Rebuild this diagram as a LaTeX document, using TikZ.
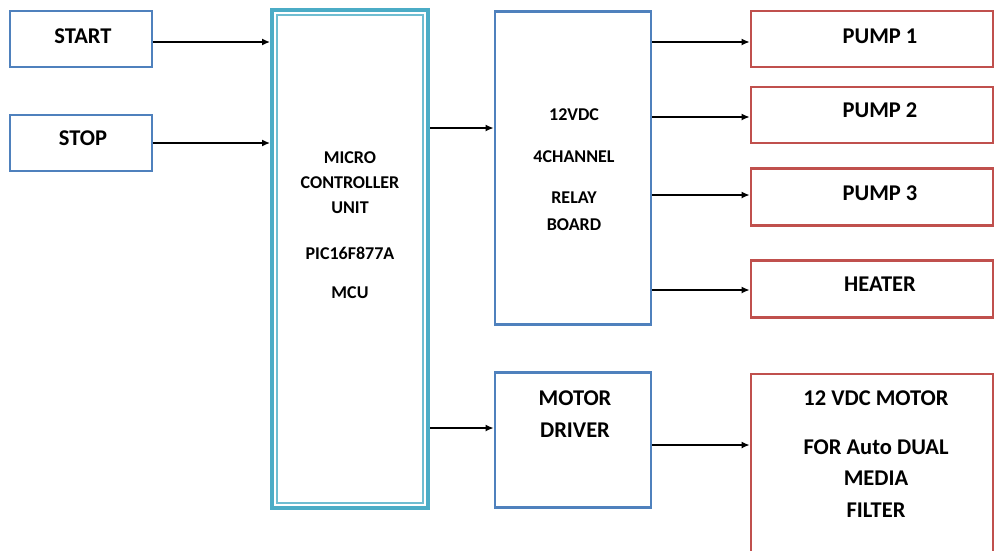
\documentclass[tikz,border=0pt]{standalone}
\usepackage{fontspec}
\setmainfont{Carlito}
\usetikzlibrary{arrows.meta}
\definecolor{cblue}{HTML}{4F81BD}
\definecolor{cred}{HTML}{C0504D}
\definecolor{ccyan}{HTML}{4BACC6}
\begin{document}
\begin{tikzpicture}[x=1pt,y=-1pt,
  bluebox/.style={draw=cblue,line width=2.8pt,rectangle,inner sep=0pt},
  redbox/.style={draw=cred,line width=2.8pt,rectangle,inner sep=0pt},
  big/.style={font=\fontsize{22.5}{26}\selectfont\bfseries,inner sep=0pt},
  mid/.style={font=\fontsize{18}{21}\selectfont\bfseries,inner sep=0pt},
  arr/.style={-{Latex[length=8pt,width=7pt]},line width=1.4pt,black}]
\useasboundingbox (0,0) rectangle (995,550);
% left inputs
\node[bluebox,minimum width=142,minimum height=56] (start) at (81,39) {};
\node[big] (tstart) at (83,36) {START};
\node[bluebox,minimum width=142,minimum height=56] (stop) at (81,143) {};
\node[big] (tstop) at (83,138) {STOP};
% MCU
\node[draw=ccyan,line width=4pt,minimum width=156,minimum height=498,inner sep=0pt] (mcu) at (350,259) {};
\node[draw=ccyan!80,line width=1.3pt,minimum width=146,minimum height=488,inner sep=0pt] (mcuin) at (350,259) {};
\node[mid] (m1) at (350,158) {MICRO};
\node[mid] (m2) at (350,183) {CONTROLLER};
\node[mid] (m3) at (350,208) {UNIT};
\node[mid] (m4) at (350,253) {PIC16F877A};
\node[mid] (m5) at (350,293) {MCU};
% relay
\node[bluebox,minimum width=156,minimum height=313] (relay) at (573,168) {};
\node[mid] (r1) at (574,115) {12VDC};
\node[mid] (r2) at (574,157) {4CHANNEL};
\node[mid] (r3) at (574,198) {RELAY};
\node[mid] (r4) at (574,225) {BOARD};
% motor driver
\node[bluebox,minimum width=156,minimum height=135] (drv) at (573,440) {};
\node[big] (d1) at (575,398) {MOTOR};
\node[big] (d2) at (575,430) {DRIVER};
% outputs
\node[redbox,minimum width=242,minimum height=56] (p1) at (872,39) {};
\node[big] (tp1) at (880,36) {PUMP 1};
\node[redbox,minimum width=242,minimum height=56] (p2) at (872,115) {};
\node[big] (tp2) at (880,110) {PUMP 2};
\node[redbox,minimum width=242,minimum height=57] (p3) at (872,197) {};
\node[big] (tp3) at (880,193) {PUMP 3};
\node[redbox,minimum width=242,minimum height=57] (heat) at (872,289) {};
\node[big] (theat) at (880,284) {HEATER};
\node[redbox,minimum width=242,minimum height=180] (motor) at (872,464) {};
\node[big] (mo1) at (876,398) {12 VDC MOTOR};
\node[big] (mo2) at (876,447) {FOR Auto DUAL};
\node[big] (mo3) at (876,478) {MEDIA};
\node[big] (mo4) at (876,510) {FILTER};
% connectors
\draw[arr] (start.east |- 0,42) -- (mcu.west |- 0,42);
\draw[arr] (stop.east |- 0,143) -- (mcu.west |- 0,143);
\draw[arr] (mcu.east |- 0,128) -- (relay.west |- 0,128);
\draw[arr] (mcu.east |- 0,428) -- (drv.west |- 0,428);
\draw[arr] (relay.east |- 0,42) -- (p1.west |- 0,42);
\draw[arr] (relay.east |- 0,117) -- (p2.west |- 0,117);
\draw[arr] (relay.east |- 0,195) -- (p3.west |- 0,195);
\draw[arr] (relay.east |- 0,290) -- (heat.west |- 0,290);
\draw[arr] (drv.east |- 0,445) -- (motor.west |- 0,445);
\end{tikzpicture}
\end{document}
